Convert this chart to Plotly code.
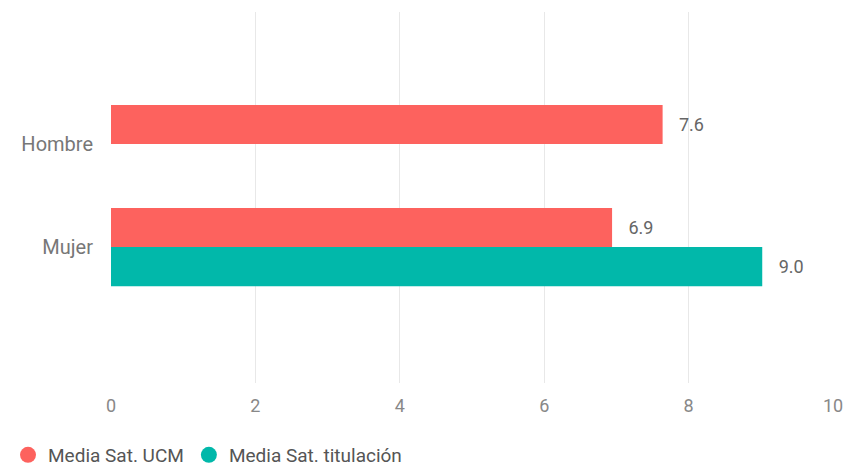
import plotly.graph_objects as go

categories = ["Hombre", "Mujer"]
ucm_values = [7.64, 6.94]
tit_values = [None, 9.02]
series_names = ["Media Sat. UCM", "Media Sat. titulación"]
x_ticks = [0, 2, 4, 6, 8, 10]

RED = "#FD625E"
TEAL = "#01B8AA"

# The page body has an 8px default margin; size the figure to fit the window.
W, H = 843, 458

fig = go.Figure()
for name, vals, color in [(series_names[0], ucm_values, RED), (series_names[1], tit_values, TEAL)]:
    fig.add_trace(go.Bar(
        y=categories, x=vals, orientation="h", name=name,
        marker=dict(color=color, line=dict(width=0)),
        texttemplate="   %{x:.1f}", textposition="outside",
        textfont=dict(family="Roboto", size=18, color="#666666"),
        cliponaxis=False, showlegend=False,
    ))
    fig.add_trace(go.Scatter(
        x=[None], y=[None], mode="markers", name=name,
        marker=dict(symbol="circle", size=16, color=color),
        showlegend=True,
    ))

fig.update_layout(
    width=W, height=H,
    margin=dict(l=103, r=18, t=4, b=83),
    paper_bgcolor="white", plot_bgcolor="white",
    barmode="group", bargap=0.24, bargroupgap=0,
    font=dict(family="Roboto", color="#777777"),
    xaxis=dict(
        range=[0, 10], tickvals=x_ticks, showgrid=True, gridcolor="#E8E8E8",
        gridwidth=1, zeroline=False, showline=False, automargin=False,
        tickfont=dict(size=18, color="#888888"), ticklabelstandoff=10,
    ),
    yaxis=dict(
        type="category", categoryorder="array", categoryarray=categories,
        range=[2.32, -1.282], showgrid=False, zeroline=False, showline=False,
        automargin=False,
        tickfont=dict(size=20, color="#777777"), ticklabelstandoff=17,
    ),
    legend=dict(
        orientation="h", xref="container", yref="container",
        x=-0.0094, y=11 / H, xanchor="left", yanchor="middle",
        font=dict(size=19, color="#555555"), itemwidth=30,
        tracegroupgap=0,
    ),
)

fig.write_html("out.html")
